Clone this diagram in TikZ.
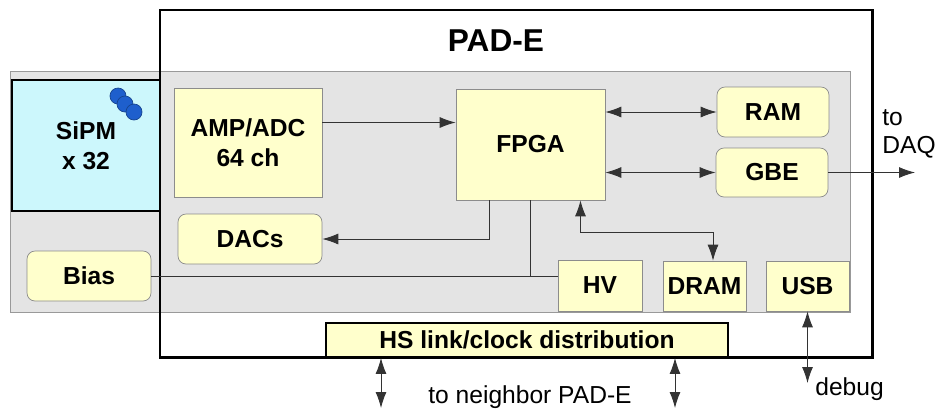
\documentclass[tikz,border=0pt]{standalone}
\usepackage{fontspec}
\setmainfont{Liberation Sans}
\usetikzlibrary{arrows.meta}
\definecolor{boardgray}{RGB}{228,228,228}
\definecolor{chipfill}{RGB}{255,255,204}
\definecolor{sipmfill}{RGB}{204,247,252}
\definecolor{sipmblue}{RGB}{30,95,205}
\tikzset{
  chip/.style={draw=black!45, line width=0.4pt, fill=chipfill, align=center, inner sep=0pt,
    font=\fontsize{14}{17}\selectfont\bfseries},
  rchip/.style={chip, rounded corners=1.6mm},
  wire/.style={draw=black!80, line width=0.5pt},
  link/.style={wire, -{Latex[length=3.2mm,width=2.2mm]}},
  dlink/.style={wire, {Latex[length=3.2mm,width=2.2mm]}-{Latex[length=3.2mm,width=2.2mm]}},
  plain/.style={font=\fontsize{14}{16}\selectfont, inner sep=0pt}
}

\begin{document}
\begin{tikzpicture}[x=0.02cm,y=-0.02cm]
	%%%%% START %%%%%
	\useasboundingbox (0,0) rectangle (937,410);
	
	\draw[draw=black!40, fill=boardgray] (10,71) rectangle (850,312);
	\draw[line width=1.7pt] (160,10) rectangle (872,357);
	\node[font=\fontsize{18}{20}\selectfont\bfseries] (title) at (496,41) {PAD-E};
	
	\node[chip, draw=black, line width=1.1pt, fill=sipmfill, minimum width=2.96cm, minimum height=2.62cm] (sipm) at (86,145.5) {SiPM\\x 32};
	\draw[draw=sipmblue!70!black, fill=sipmblue] (118,96) circle[radius=0.16cm];
	\draw[draw=sipmblue!70!black, fill=sipmblue] (125,104) circle[radius=0.16cm];
	\draw[draw=sipmblue!70!black, fill=sipmblue] (134,112) circle[radius=0.16cm];
	
	\node[chip, minimum width=2.96cm, minimum height=2.18cm] (amp) at (248,142.5) {AMP/ADC\\64 ch};
	\node[rchip, minimum width=2.88cm, minimum height=1.0cm] (dacs) at (250,239) {DACs};
	\node[rchip, minimum width=2.48cm, minimum height=1.0cm] (bias) at (89,276) {Bias};
	\node[chip, minimum width=2.98cm, minimum height=2.22cm] (fpga) at (530.5,144.5) {FPGA};
	\node[rchip, minimum width=2.24cm, minimum height=1.0cm] (ram) at (773,112) {RAM};
	\node[rchip, minimum width=2.24cm, minimum height=0.98cm] (gbe) at (772,172.5) {GBE};
	\node[chip, minimum width=1.68cm, minimum height=1.02cm] (hv) at (600,285.5) {HV};
	\node[chip, minimum width=1.66cm, minimum height=1.0cm] (dram) at (704.5,286) {DRAM};
	\node[chip, minimum width=1.66cm, minimum height=1.0cm] (usb) at (807.5,286) {USB};
	\node[chip, draw=black, line width=1.1pt, minimum width=8.04cm, minimum height=0.68cm] (hs) at (527,340) {HS link/clock distribution};
	
	\node[plain, align=left, anchor=west] (daqtext) at (882,134) {to\\DAQ};
	\node[plain] (nbtext) at (530,397) {to neighbor PAD-E};
	\node[plain, anchor=base west] (debugtext) at (815,395) {debug};
	
	\coordinate (daq) at (915,172.5);
	\coordinate (bend) at (713,232);
	\coordinate (nbl) at (381,408);
	\coordinate (nbr) at (675,408);
	\coordinate (dbg) at (807.5,383);
	
	\draw[link] ([yshift=0.4cm]amp.east) -- ([yshift=0.4cm]amp.east -| fpga.west);
	\draw[link] ([xshift=-0.83cm]fpga.south) |- (dacs.east);
	\draw[wire] (bias.east) -- (bias.east -| hv.west);
	\draw[wire] (fpga.south) -- (fpga.south |- bias.east);
	\draw[dlink] (ram.west -| fpga.east) -- (ram.west);
	\draw[dlink] (gbe.west -| fpga.east) -- (gbe.west);
	\draw[dlink] ([xshift=1cm]fpga.south) |- (bend) -- (bend |- dram.north);
	\draw[link] (gbe.east) -- (daq);
	\draw[dlink] (hs.south -| nbl) -- (nbl);
	\draw[dlink] (hs.south -| nbr) -- (nbr);
	\draw[dlink] (usb.south) -- (dbg);
	
	%%%%% END %%%%%
\end{tikzpicture}
\end{document}
